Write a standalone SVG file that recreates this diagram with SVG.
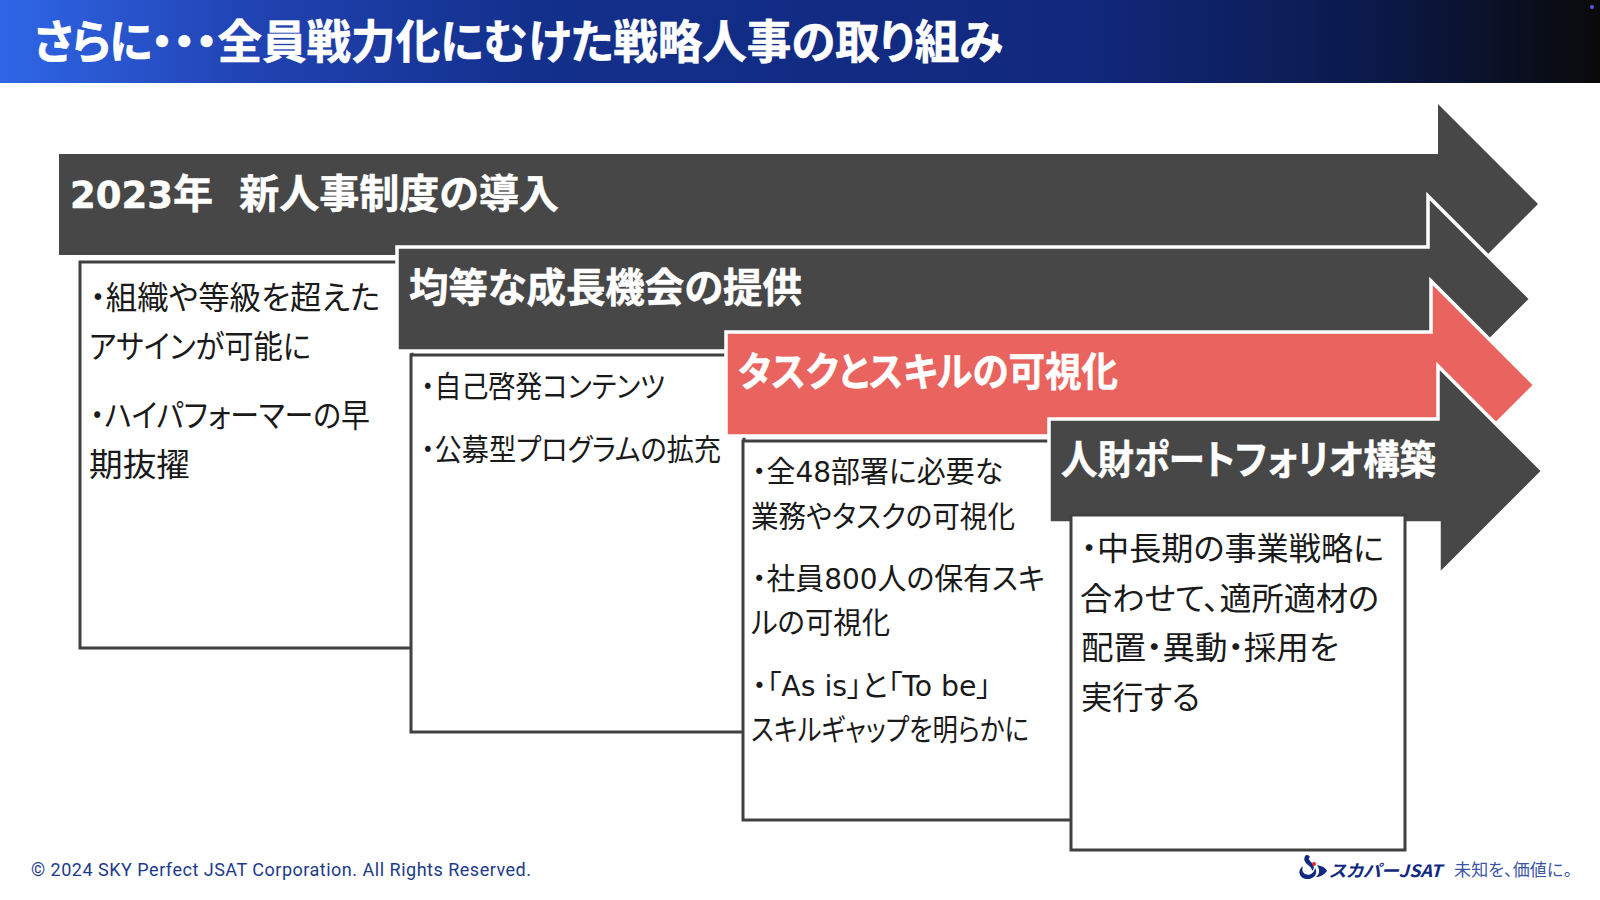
<svg xmlns="http://www.w3.org/2000/svg" width="1600" height="900" viewBox="0 0 1600 900">
<style>
text{font-family:"Noto Sans CJK JP","Noto Sans",sans-serif;font-feature-settings:"palt";}
.arrow{fill:#474747}
.outlined{stroke:#fff;stroke-width:3.5}
.red{fill:#e9645e}
.box{fill:#fff;stroke:#404040;stroke-width:3}
.h{font-size:40px;font-weight:700;fill:#fff;stroke:#fff;stroke-width:.5}
.b32{font-size:32px;fill:#1a1a1a}
.b30{font-size:30px;fill:#1a1a1a}
.lat{font-family:"DejaVu Sans",sans-serif;font-size:29px}
.latb{font-family:"DejaVu Sans",sans-serif;font-size:37px}
</style>
<defs>
<linearGradient id="hdr" x1="0" x2="1" y1="0" y2="0">
<stop offset="0" stop-color="#2f66e6"/>
<stop offset="0.15" stop-color="#2144b4"/>
<stop offset="0.33" stop-color="#13308c"/>
<stop offset="0.68" stop-color="#11287c"/>
<stop offset="0.85" stop-color="#0b1a4c"/>
<stop offset="1" stop-color="#0a0a0a"/>
</linearGradient>
</defs>
<rect width="1600" height="900" fill="#fff"/>
<g id="header">
<rect width="1600" height="83" fill="url(#hdr)"/>
<text x="34" y="58" font-size="46" font-weight="700" fill="#fff" stroke="#fff" stroke-width=".6" textLength="969" lengthAdjust="spacingAndGlyphs"><tspan letter-spacing="-1.5">さらに</tspan>・・・全員戦力化にむけた戦略人事の取り組み</text>
<circle cx="1592" cy="7" r="2" fill="#5a55e0"/>
</g>
<g id="stage1">
<path class="arrow" d="M59 154H1438V104L1538 204L1438 304V255H59Z"/>
<rect class="box" x="80" y="262" width="332" height="386"/>
<text class="b32" x="90" y="309" textLength="290" lengthAdjust="spacingAndGlyphs">・組織や等級を超えた</text>
<text class="b32" x="89" y="358" textLength="222" lengthAdjust="spacingAndGlyphs">アサインが可能に</text>
<text class="b32" x="90" y="427" textLength="280" lengthAdjust="spacingAndGlyphs">・ハイパフォーマーの早</text>
<text class="b32" x="89" y="476" textLength="101" lengthAdjust="spacingAndGlyphs">期抜擢</text>
<text class="h" x="70" y="208" textLength="489" lengthAdjust="spacingAndGlyphs"><tspan class="latb">2023</tspan>年<tspan font-size="26">　</tspan>新人事制度の導入</text>
</g>
<g id="stage2">
<path class="arrow outlined" d="M397 247H1428V196L1531 299L1428 402V351H397Z"/>
<rect class="box" x="411" y="355" width="333" height="377"/>
<text class="b30" x="421" y="397" textLength="244" lengthAdjust="spacingAndGlyphs">・自己啓発コンテンツ</text>
<text class="b30" x="421" y="460" textLength="300" lengthAdjust="spacingAndGlyphs">・公募型プログラムの拡充</text>
<text class="h" x="409" y="302" textLength="393" lengthAdjust="spacingAndGlyphs">均等な成長機会の提供</text>
</g>
<g id="stage3">
<path class="arrow outlined red" d="M726 332H1431V281L1535 385L1431 489V436H726Z"/>
<rect class="box" x="743" y="441" width="329" height="379"/>
<text class="b30" x="752" y="482" textLength="251" lengthAdjust="spacingAndGlyphs">・全<tspan class="lat">48</tspan>部署に必要な</text>
<text class="b30" x="751" y="527" textLength="264" lengthAdjust="spacingAndGlyphs">業務やタスクの可視化</text>
<text class="b30" x="752" y="589" textLength="293" lengthAdjust="spacingAndGlyphs">・社員<tspan class="lat">800</tspan>人の保有スキ</text>
<text class="b30" x="751" y="633" textLength="139" lengthAdjust="spacingAndGlyphs">ルの可視化</text>
<text class="b30" x="752" y="696" textLength="239" lengthAdjust="spacingAndGlyphs">・「<tspan class="lat">As is</tspan>」と「<tspan class="lat">To be</tspan>」</text>
<text class="b30" x="751" y="740" textLength="278" lengthAdjust="spacingAndGlyphs">スキルギャップを明らかに</text>
<text class="h" x="738" y="386" textLength="380" lengthAdjust="spacingAndGlyphs">タスクとスキルの可視化</text>
</g>
<g id="stage4">
<path class="arrow outlined" d="M1049 419H1438V366L1543 471L1439 575V523H1049Z"/>
<rect class="box" x="1071" y="515" width="334" height="335"/>
<text class="b32" x="1081" y="560" textLength="303" lengthAdjust="spacingAndGlyphs">・中長期の事業戦略に</text>
<text class="b32" x="1080" y="610" textLength="299" lengthAdjust="spacingAndGlyphs">合わせて、適所適材の</text>
<text class="b32" x="1081" y="659" textLength="258" lengthAdjust="spacingAndGlyphs">配置・異動・採用を</text>
<text class="b32" x="1081" y="709" textLength="119" lengthAdjust="spacingAndGlyphs">実行する</text>
<text class="h" x="1061" y="474" textLength="375" lengthAdjust="spacingAndGlyphs">人財ポートフォリオ構築</text>
</g>
<g id="footer">
<text x="31" y="876" font-size="18" fill="#1d3a8a" style="font-family:Roboto,sans-serif" textLength="500">© 2024 SKY Perfect JSAT Corporation. All Rights Reserved.</text>
<g id="logo">
<path d="M1303 866C1296 871 1300 880 1309 879C1315 878 1318 873 1315 868C1314 874 1309 876 1305 874C1302 872 1302 869 1303 866Z" fill="#0f2a80"/>
<path d="M1306 855C1303 858 1304 862 1308 865C1311 867 1312 869 1312 871C1315 868 1314 865 1311 862C1309 860 1308 858 1310 857C1309 855 1307 855 1306 855Z" fill="#0f2a80"/>
<path d="M1317 865C1322 866 1326 868 1327 871C1324 875 1320 877 1316 877C1320 874 1320 869 1317 865Z" fill="#0f2a80"/>
<circle cx="1314" cy="864" r="2" fill="#e8262a"/>
<text x="1329" y="877" font-size="17" font-weight="700" font-style="italic" fill="#0f2a80" textLength="113" lengthAdjust="spacingAndGlyphs">スカパーJSAT</text>
<text x="1454" y="876" font-size="17" fill="#3a55a8" style="font-family:'Liberation Serif','Noto Sans CJK JP',serif" textLength="118">未知を、価値に。</text>
</g>
</g>
</svg>
